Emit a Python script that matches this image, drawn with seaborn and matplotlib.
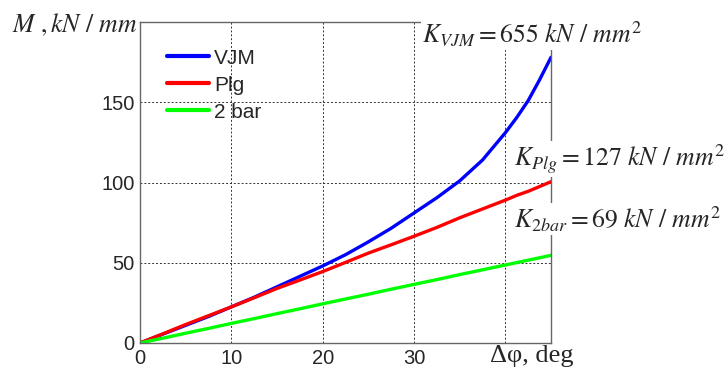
import matplotlib
matplotlib.use('Agg')
import matplotlib.pyplot as plt
import seaborn as sns
import pandas as pd

# Data
angle = [0, 2.5, 5, 7.5, 10, 12.5, 15, 17.5, 20, 22.5, 25, 27.5, 30, 32.5,
         35, 37.5, 40, 41.25, 42.5, 43.75, 45]
m_vjm = [0, 5.5, 11, 16.5, 22.5, 28.5, 35, 41.5, 48, 55, 63, 71.5, 81, 90.5,
         101, 114, 131, 140.5, 151, 164, 178]
m_plg = [0, 5.7, 11.5, 17, 22.5, 28.2, 34, 39.2, 44.5, 50.2, 56, 61.2, 66.5, 72,
         78, 83.5, 89, 92, 94.5, 97.5, 100.5]
m_2bar = [0, 3, 6.1, 9.1, 12.2, 15.2, 18.3, 21.3, 24.4, 27.4, 30.4, 33.5, 36.5, 39.5,
          42.6, 45.6, 48.6, 50.1, 51.6, 53.1, 54.6]

series_names = ['VJM', 'Plg', '2 bar']
series_colors = ['#0000ff', '#ff0000', '#00ff00']
x_ticks = [0, 10, 20, 30, 40]
x_tick_labels = ['0', '10', '20', '30', '']
y_ticks = [0, 50, 100, 150]

df = pd.DataFrame({'angle': angle * 3,
                   'M': m_vjm + m_plg + m_2bar,
                   'model': sum([[n] * len(angle) for n in series_names], [])})

sns.set_style('white')
plt.rcParams['font.family'] = ['Liberation Sans', 'DejaVu Sans']
plt.rcParams['mathtext.fontset'] = 'stix'

fig = plt.figure(figsize=(7.25, 3.72), dpi=100)
ax = fig.add_axes([140 / 725, 1 - 343 / 372, 411 / 725, 321 / 372])

sns.lineplot(data=df, x='angle', y='M', hue='model', palette=series_colors,
             linewidth=2.4, ax=ax)

ax.set_xlim(0, 45)
ax.set_ylim(0, 200)
ax.set_xticks(x_ticks)
ax.set_xticklabels(x_tick_labels)
ax.set_yticks(y_ticks)
ax.set_xlabel('')
ax.set_ylabel('')
ax.tick_params(direction='in', length=4, labelsize=14.5, color='#555555', pad=4)
ax.grid(True, color='#333333', linestyle=(0, (2, 2)), linewidth=0.7)
for s in ax.spines.values():
    s.set_color('#666666')
    s.set_linewidth(1.0)

leg = ax.legend(loc='upper left', bbox_to_anchor=(0.02, 0.975), frameon=False,
                fontsize=15, handlelength=2.0, handletextpad=0.25, labelspacing=0.38)
for line in leg.get_lines():
    line.set_linewidth(3)

# axis titles in the style of the original
fig.text(12 / 725, 1 - 32 / 372, r'$M\ ,kN\ /\ mm$', fontsize=18.5, va='baseline')
fig.text(490 / 725, 1 - 362 / 372, 'Δφ, deg', fontsize=19, va='baseline',
         family=['Liberation Serif', 'DejaVu Serif'])

box = dict(facecolor='white', edgecolor='none', pad=1)
fig.text(422 / 725, 1 - 43 / 372, r'$K_{VJM}=655\ kN\ /\ mm^2$', fontsize=18.5,
         va='baseline', bbox=box, zorder=5)
fig.text(514 / 725, 1 - 166 / 372, r'$K_{Plg}=127\ kN\ /\ mm^2$', fontsize=18.5,
         va='baseline', bbox=box, zorder=5)
fig.text(514 / 725, 1 - 228 / 372, r'$K_{2bar}=69\ kN\ /\ mm^2$', fontsize=18.5,
         va='baseline', bbox=box, zorder=5)

fig.savefig('out.png', dpi=100)
